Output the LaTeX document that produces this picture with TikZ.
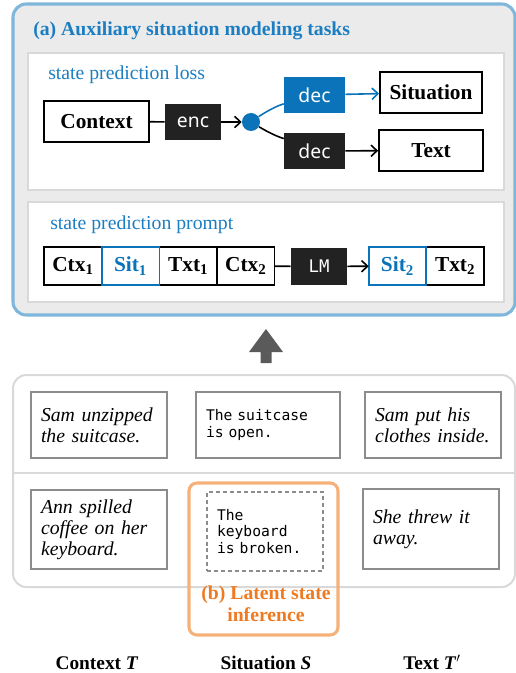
\documentclass[tikz,border=0pt]{standalone}
\usepackage{fontspec}
\setmainfont{Liberation Serif}
\setsansfont{Noto Sans}
\setmonofont{DejaVu Sans Mono}
\usetikzlibrary{arrows.meta,positioning}
\definecolor{taskBlue}{HTML}{0A73B9}
\definecolor{titleBlue}{HTML}{1C7EC2}
\definecolor{frameBlue}{HTML}{7FB6DB}
\definecolor{panelGray}{HTML}{EBEBEB}
\definecolor{rimGray}{HTML}{D9D9D9}
\definecolor{noteGray}{HTML}{8C8C8C}
\definecolor{modelBlack}{HTML}{222222}
\definecolor{latentOrange}{HTML}{F6B07A}
\definecolor{latentText}{HTML}{EE7B22}
\definecolor{upGray}{HTML}{5A5A5A}
\tikzset{
	wordbox/.style={draw=black, line width=1.3pt, fill=white, inner sep=0pt, minimum height=30.75pt, font=\fontsize{16}{18}\selectfont\bfseries},
	modelbox/.style={fill=modelBlack, text=white, inner sep=0pt, minimum width=42pt, minimum height=27pt, font=\sffamily\fontsize{14.5}{16}\selectfont},
	seqbox/.style={draw=black, line width=1.3pt, fill=white, inner sep=0pt, outer sep=0pt, minimum width=43.2pt, minimum height=28.5pt, font=\fontsize{16}{18}\selectfont\bfseries},
	sitseq/.style={seqbox, draw=taskBlue, text=taskBlue},
	panel/.style={draw=rimGray, line width=1.1pt, fill=white},
	tasklabel/.style={anchor=base west, inner sep=0pt, text=titleBlue, font=\fontsize{14.8}{17}\selectfont},
	flow/.style={line width=1.2pt, -{Straight Barb[length=4.5pt,width=8.5pt]}},
	notebox/.style={draw=noteGray, line width=1.4pt, fill=white, inner xsep=7.5pt, inner ysep=0pt, align=left, font=\itshape\fontsize{14.8}{15.8}\selectfont},
	statebox/.style={notebox, font=\ttfamily\fontsize{11}{12.6}\selectfont},
	column/.style={anchor=base, font=\bfseries\fontsize{14.5}{17}\selectfont},
}
\begin{document}
\begin{tikzpicture}[x=0.75pt,y=-0.75pt]
\useasboundingbox (0,0) rectangle (516,673);
% (a) auxiliary tasks
\draw[frameBlue, line width=2.3pt, fill=panelGray, rounded corners=10pt] (13,4) rectangle (515,315);
\node[tasklabel, font=\bfseries\fontsize{14.8}{17}\selectfont] (titleA) at (33,36) {(a) Auxiliary situation modeling tasks};
\draw[panel] (28,53) rectangle (504,190);
\draw[panel] (28,202) rectangle (504,302);

% loss
\node[tasklabel] (lossLbl) at (48,80) {state prediction loss};
\node[wordbox, minimum width=78.75pt] (ctx) at (96.5,121.5) {Context};
\node[modelbox] (enc) at (193,122) {enc};
\node[circle, fill=taskBlue, minimum size=13.5pt, inner sep=0pt] (mix) at (251,122) {};
\node[modelbox, fill=taskBlue, minimum width=45.75pt] (decS) at (314.5,95) {dec};
\node[modelbox, minimum width=45.75pt] (decT) at (314.5,151) {dec};
\node[wordbox, minimum width=76.5pt] (sitOut) at (431,92.5) {Situation};
\node[wordbox, minimum width=78pt] (txtOut) at (431,150.5) {Text};
\draw[line width=1.2pt] (ctx) -- (enc);
\draw[flow] (enc) -- (mix);
\draw[taskBlue, line width=1.2pt] (mix) .. controls +(10,-7) and +(-10,3) .. (decS.196);
\draw[line width=1.2pt] (mix) .. controls +(10,6) and +(-10,-3) .. (decT.158);
\draw[flow, taskBlue] (decS) -- (sitOut);
\draw[flow] (decT) -- (txtOut);

% prompt
\node[tasklabel] (promptLbl) at (50,229) {state prediction prompt};
\node[seqbox] (ctx1) at (73,266) {Ctx\textsubscript{1}};
\node[sitseq, right=0pt of ctx1] (sit1) {Sit\textsubscript{1}};
\node[seqbox, right=0pt of sit1] (txt1) {Txt\textsubscript{1}};
\node[seqbox, right=0pt of txt1] (ctx2) {Ctx\textsubscript{2}};
\draw[taskBlue, line width=1.3pt] (sit1.south west) rectangle (sit1.north east);
\node[modelbox, font=\ttfamily\fontsize{13}{15}\selectfont, minimum height=27.75pt] (lm) at (319,266.5) {LM};
\node[sitseq] (sit2) at (397.5,266) {Sit\textsubscript{2}};
\node[seqbox, right=0pt of sit2] (txt2) {Txt\textsubscript{2}};
\draw[taskBlue, line width=1.3pt] (sit2.south west) rectangle (sit2.north east);
\draw[line width=1.2pt] (ctx2) -- (lm);
\draw[flow] (lm) -- (sit2);

% up arrow
\fill[upGray] (249,352) -- (266,329) -- (283,352) -- (271.5,352) -- (271.5,363) -- (260.5,363) -- (260.5,352) -- cycle;

% examples
\draw[rimGray, line width=1.5pt, rounded corners=10pt] (13,375) rectangle (515,587);
\draw[rimGray, line width=1.5pt] (13,473) -- (515,473);
\node[notebox, text width=87pt, minimum height=49.5pt] (ctxA) at (99,425) {Sam unzipped\\the suitcase.};
\node[statebox, text width=93pt, minimum height=49.5pt] (sitA) at (268,425) {The suitcase\\is open.};
\node[notebox, text width=87pt, minimum height=49.5pt] (txtA) at (433,425) {Sam put his\\clothes inside.};
\node[notebox, text width=87pt, minimum height=59.25pt] (ctxB) at (99,529.5) {Ann spilled\\coffee on her\\keyboard.};
\node[statebox, line width=1.1pt, dash pattern=on 3pt off 2.2pt, text width=72pt, minimum height=59.25pt] (sitB) at (265,531.5) {The\\keyboard\\is broken.};
\node[notebox, text width=87pt, minimum height=60pt] (txtB) at (431,529) {She threw it\\away.};

% (b) latent state
\draw[latentOrange, line width=2.3pt, rounded corners=6pt] (189,483) rectangle (338,635);
\node[text=latentText, align=center, font=\bfseries\fontsize{14.8}{16.5}\selectfont] (latentLbl) at (266,604) {(b) Latent state\\inference};

% columns
\node[column] (colCtx) at (97,669) {Context \textit{T}};
\node[column] (colSit) at (266,669) {Situation \textit{S}};
\node[column] (colTxt) at (432,669) {Text \textit{T}$'$};
\end{tikzpicture}
\end{document}
